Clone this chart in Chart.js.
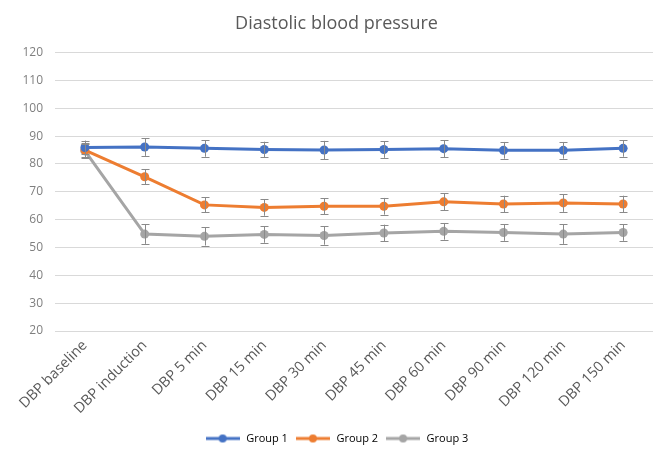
<!DOCTYPE html>
<html>
<head>
<meta charset="utf-8">
<script src="https://cdn.jsdelivr.net/npm/chart.js@4"></script>
<style>
  html, body { margin: 0; padding: 0; background: #ffffff; }
  #wrap { width: 664px; height: 454px; }
</style>
</head>
<body>
<div id="wrap"><canvas id="c" width="664" height="454"></canvas></div>
<script>
// Time points of the measurement
const categories = ['DBP baseline', 'DBP induction', 'DBP 5 min', 'DBP 15 min', 'DBP 30 min',
                    'DBP 45 min', 'DBP 60 min', 'DBP 90 min', 'DBP 120 min', 'DBP 150 min'];

// Mean diastolic blood pressure (mmHg) per group
const group1 = [85.9, 86.1, 85.6, 85.2, 85.0, 85.2, 85.5, 84.9, 84.9, 85.6];
const group2 = [85.0, 75.4, 65.3, 64.4, 64.8, 64.8, 66.4, 65.6, 66.0, 65.6];
const group3 = [84.7, 54.8, 54.0, 54.7, 54.3, 55.2, 55.8, 55.4, 54.8, 55.4];

// Error bar half-widths (mmHg)
const group1Err = [2.5, 3.2, 3.0, 2.8, 3.3, 3.0, 3.0, 3.0, 3.0, 3.0];
const group2Err = [2.5, 2.7, 2.7, 3.0, 2.8, 3.0, 3.0, 3.0, 3.2, 3.0];
const group3Err = [2.5, 3.5, 3.3, 3.0, 3.3, 3.0, 3.0, 3.0, 3.5, 3.0];

// Y axis ticks
const yMin = 20, yMax = 120, yStep = 10;

const COLORS = ['#4472C4', '#ED7D31', '#A5A5A5'];
const FONT = "'Open Sans', 'Liberation Sans', sans-serif";

// Legend swatch: short line with a round marker in the middle
function legendSwatch(color) {
  const cv = document.createElement('canvas');
  cv.width = 34; cv.height = 10;
  const g = cv.getContext('2d');
  g.strokeStyle = color; g.lineWidth = 3;
  g.beginPath(); g.moveTo(0, 5); g.lineTo(34, 5); g.stroke();
  g.fillStyle = color;
  g.beginPath(); g.arc(17, 5, 4, 0, Math.PI * 2); g.fill();
  return cv;
}

// Vertical error bars with caps, drawn through the scales
const errorBars = {
  id: 'errorBars',
  afterDatasetsDraw(chart) {
    const ctx = chart.ctx;
    const ys = chart.scales.y;
    ctx.save();
    ctx.strokeStyle = '#8a8a8a';
    ctx.lineWidth = 1;
    chart.data.datasets.forEach((ds, i) => {
      const meta = chart.getDatasetMeta(i);
      meta.data.forEach((pt, j) => {
        const v = ds.data[j], e = ds.err[j];
        const x = Math.round(pt.x) + 0.5;
        const yTop = ys.getPixelForValue(v + e);
        const yBot = ys.getPixelForValue(v - e);
        ctx.beginPath();
        ctx.moveTo(x, yTop); ctx.lineTo(x, yBot);
        ctx.moveTo(x - 4, Math.round(yTop) + 0.5); ctx.lineTo(x + 4, Math.round(yTop) + 0.5);
        ctx.moveTo(x - 4, Math.round(yBot) + 0.5); ctx.lineTo(x + 4, Math.round(yBot) + 0.5);
        ctx.stroke();
      });
    });
    ctx.restore();
  }
};

function series(label, data, err, color) {
  return {
    label, data, err,
    borderColor: color,
    backgroundColor: color,
    borderWidth: 3,
    pointStyle: 'circle',
    pointRadius: 4.5,
    pointHoverRadius: 4.5,
    pointBorderWidth: 0,
    tension: 0
  };
}

const chart = new Chart(document.getElementById('c'), {
  type: 'line',
  data: {
    labels: categories,
    datasets: [
      series('Group 1', group1, group1Err, COLORS[0]),
      series('Group 2', group2, group2Err, COLORS[1]),
      series('Group 3', group3, group3Err, COLORS[2])
    ]
  },
  options: {
    responsive: false,
    animation: false,
    devicePixelRatio: 1,
    layout: { padding: { left: 20, right: 11, top: 8, bottom: 0 } },
    plugins: {
      title: {
        display: true,
        text: 'Diastolic blood pressure',
        color: '#595959',
        font: { family: FONT, size: 18, weight: 'normal' },
        padding: { top: 5, bottom: 18 }
      },
      legend: {
        position: 'bottom',
        labels: {
          usePointStyle: true,
          pointStyleWidth: 36,
          color: '#595959',
          font: { family: FONT, size: 11 },
          padding: 7,
          generateLabels(chart) {
            return chart.data.datasets.map((ds, i) => ({
              text: ds.label,
              pointStyle: legendSwatch(COLORS[i]),
              fillStyle: COLORS[i],
              strokeStyle: COLORS[i],
              lineWidth: 0,
              datasetIndex: i,
              hidden: false
            }));
          }
        }
      },
      tooltip: { enabled: false }
    },
    scales: {
      x: {
        offset: true,
        afterFit(scale) { scale.height = 95; },
        grid: { display: false, drawTicks: false },
        border: { display: false },
        ticks: {
          color: '#595959',
          font: { family: FONT, size: 14.5 },
          maxRotation: 45,
          minRotation: 45,
          padding: 6
        }
      },
      y: {
        min: yMin,
        max: yMax,
        afterFit(scale) { scale.width = 35; },
        grid: { color: '#d9d9d9', drawTicks: false, lineWidth: 1 },
        border: { display: false },
        ticks: {
          stepSize: yStep,
          color: '#7f7f7f',
          font: { family: FONT, size: 12 },
          padding: 12
        }
      }
    }
  },
  plugins: [errorBars]
});
</script>
</body>
</html>
